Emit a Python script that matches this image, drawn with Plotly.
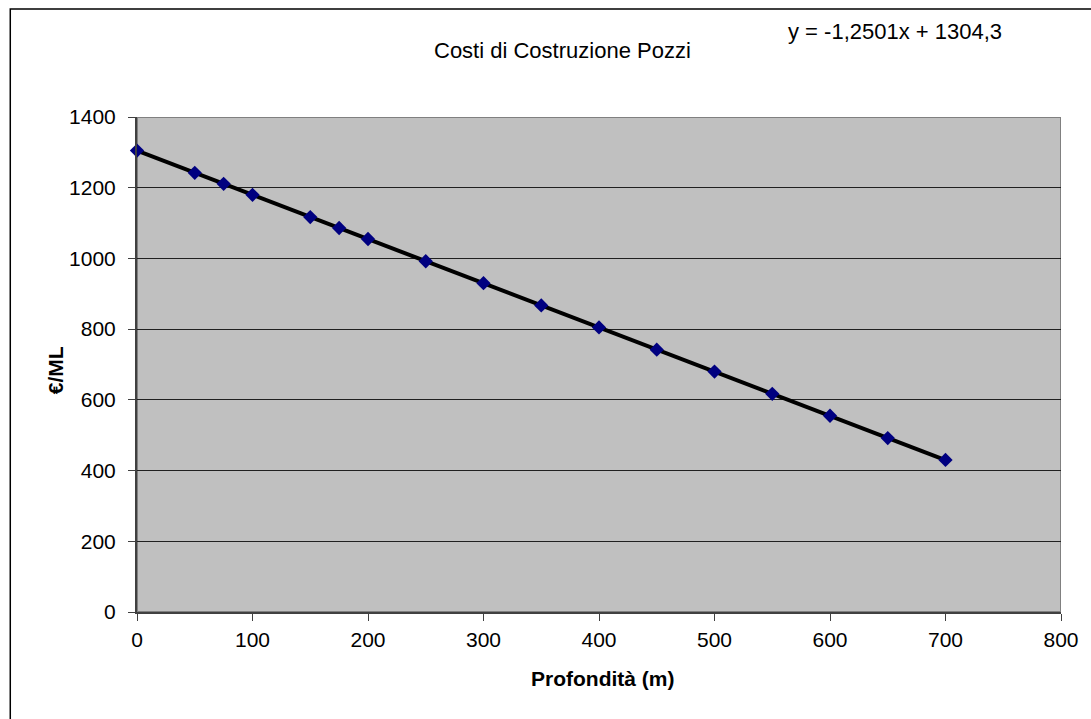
import numpy as np
import plotly.graph_objects as go

depth = [0, 50, 75, 100, 150, 175, 200, 250, 300, 350, 400, 450, 500, 550, 600, 650, 700]
cost = [1305, 1242, 1211, 1180, 1117, 1086, 1055, 992, 930, 867, 805, 742, 680, 617, 555, 492, 430]
x_ticks = [0, 100, 200, 300, 400, 500, 600, 700, 800]
y_ticks = [0, 200, 400, 600, 800, 1000, 1200, 1400]
title_text = "Costi di Costruzione Pozzi"
x_title = "Profondità (m)"
y_title = "€/ML"
equation = "y = -1,2501x + 1304,3"

slope, intercept = np.polyfit(depth, cost, 1)
trend_x = [min(depth), max(depth)]
trend_y = [slope * v + intercept for v in trend_x]

FONT = "Liberation Sans, Arial, sans-serif"
L, R, T, B = 137, 1063, 117, 612
W, H = R - L, B - T


def px(x):
    return (x - L) / W


def py(y):
    return (B - y) / H


fig = go.Figure()
fig.add_trace(go.Scatter(x=trend_x, y=trend_y, mode="lines",
                         line=dict(color="black", width=4),
                         showlegend=False, hoverinfo="skip"))
fig.add_trace(go.Scatter(x=depth, y=cost, mode="markers", cliponaxis=False,
                         marker=dict(symbol="diamond", size=11, color="#000080",
                                     line=dict(width=0)),
                         showlegend=False, hoverinfo="x+y"))

fig.update_layout(
    width=1091, height=719,
    margin=dict(l=L, r=1091 - R, t=T, b=719 - B),
    paper_bgcolor="white", plot_bgcolor="#C0C0C0",
    font=dict(family=FONT, size=21, color="black"),
    showlegend=False,
    xaxis=dict(range=[0, 800], tickvals=x_ticks, ticks="outside", ticklen=7,
               tickcolor="#404040", showgrid=False, zeroline=False,
               showline=True, linecolor="#404040", linewidth=2,
               ticklabelstandoff=1,
               tickfont=dict(size=21)),
    yaxis=dict(range=[0, 1400], tickvals=y_ticks, ticks="outside", ticklen=7,
               tickcolor="#404040", showgrid=True, gridcolor="#202020",
               gridwidth=1, zeroline=False,
               showline=True, linecolor="#404040", linewidth=2,
               ticklabelstandoff=8,
               tickfont=dict(size=21)),
    shapes=[
        dict(type="rect", xref="x", yref="y", x0=0, x1=800, y0=0, y1=1400,
             line=dict(color="#808080", width=2), layer="below"),
        dict(type="rect", xref="paper", yref="paper",
             x0=px(10), x1=px(1100), y0=py(730), y1=py(9),
             line=dict(color="black", width=1.5)),
    ],
    annotations=[
        dict(text=title_text, xref="paper", yref="paper",
             x=px(563), y=py(50),
             xanchor="center", yanchor="middle", showarrow=False,
             font=dict(size=22)),
        dict(text=equation, xref="paper", yref="paper",
             x=px(897), y=py(31),
             xanchor="center", yanchor="middle", showarrow=False,
             font=dict(size=22)),
        dict(text="<b>" + x_title + "</b>", xref="paper", yref="paper",
             x=px(604), y=py(678),
             xanchor="center", yanchor="middle", showarrow=False,
             font=dict(size=21)),
        dict(text="<b>" + y_title + "</b>", xref="paper", yref="paper",
             x=px(55), y=py(370), textangle=-90,
             xanchor="center", yanchor="middle", showarrow=False,
             font=dict(size=21)),
    ],
)

fig.write_html("out.html")
